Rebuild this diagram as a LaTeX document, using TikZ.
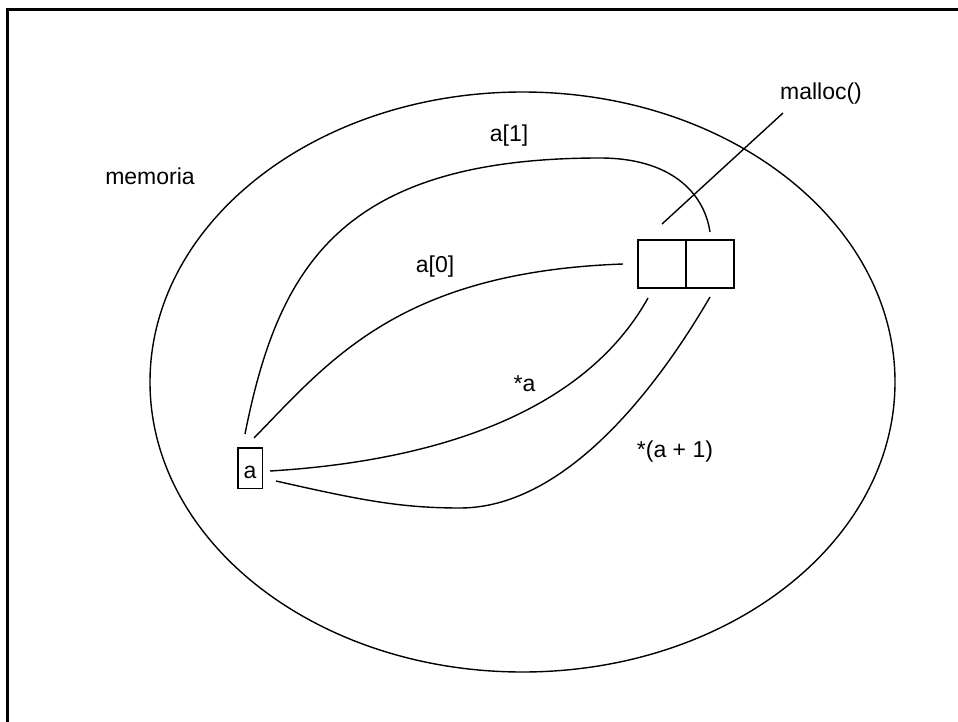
\documentclass[tikz,border=0pt]{standalone}
\usepackage{fontspec}
\setmainfont{Liberation Sans}
\usetikzlibrary{shapes.geometric}
\begin{document}
\begin{tikzpicture}[x=1pt,y=-1pt,
  lbl/.style={inner sep=0pt, anchor=base, font=\fontsize{23}{28}\selectfont},
  cell/.style={draw, line width=1.8pt, minimum width=48pt, minimum height=48.3pt, inner sep=0pt},
  link/.style={line width=1.4pt},
  frame/.style={line width=3pt},
]
\useasboundingbox (0,0) rectangle (958,722);
% frame (continues beyond the page on the right and bottom)
\coordinate (fbl) at (7.5,740);
\coordinate (ftl) at (7.5,9.5);
\coordinate (ftr) at (975,9.5);
\draw[frame] (fbl) -- (ftl) -- (ftr);

% memory ellipse
\node[draw, ellipse, line width=1.4pt, minimum width=745pt, minimum height=580pt, inner sep=0pt] (mem) at (522.5,382) {};

% labels
\node[lbl] (memoria) at (150,185) {memoria};
\node[lbl] (mallocl) at (821,100) {malloc()};
\node[lbl] (l1) at (509,142) {a[1]};
\node[lbl] (l0) at (435,272) {a[0]};
\node[lbl] (ls) at (524.5,391) {*a};
\node[lbl] (ls1) at (675,457) {*(a + 1)};

% variable a
\node[draw, line width=1.6pt, inner sep=0pt, anchor=base, minimum width=24.6pt,
      text height=30.3pt, text depth=10.3pt, font=\fontsize{23}{28}\selectfont] (va) at (250,478) {a};

% malloc block
\node[cell] (c0) at (662.2,264.2) {};
\node[cell] (c1) at (710.3,264.2) {};

% connector end points
\coordinate (s1) at (245,434);
\coordinate (e1) at (710,232);
\coordinate (s0) at (254,438);
\coordinate (e0) at (623,264);
\coordinate (s2) at (270,471);
\coordinate (e2) at (648,298);
\coordinate (s3) at (276,481);
\coordinate (e3) at (710,297);
\coordinate (m1) at (662,224);
\coordinate (m2) at (783,113);

% connectors
\draw[link] (s1) .. controls (278,268) and (340,158) .. (600,158)
                 .. controls (670,158) and (704,192) .. (e1);
\draw[link] (s0) .. controls (330,360) and (400,272) .. (e0);
\draw[link] (s2) .. controls (420,462) and (580,420) .. (e2);
\draw[link] (s3) .. controls (360,500) and (400,508) .. (460,508)
                 .. controls (560,508) and (650,400) .. (e3);
\draw[link] (m1) -- (m2);
\end{tikzpicture}
\end{document}
